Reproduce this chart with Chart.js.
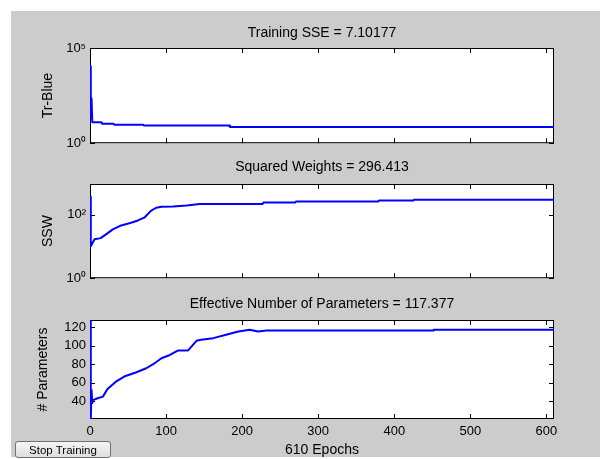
<!DOCTYPE html>
<html>
<head>
<meta charset="utf-8">
<script src="https://cdn.jsdelivr.net/npm/chart.js@4.4.1/dist/chart.umd.min.js"></script>
<style>
  body { margin: 0; background: #fff; width: 600px; height: 459px; overflow: hidden; position: relative; }
  #fig { position: absolute; left: 11px; top: 11px; width: 589px; height: 446px; background: #cccccc; }
  canvas { position: absolute; left: 0; }
  #stop {
    position: absolute; left: 15px; top: 441px; width: 96px; height: 17px;
    font: 11.5px "Liberation Sans", Arial, sans-serif; color: #000;
    border: 1px solid #707070; border-radius: 3px; padding: 0;
    background: linear-gradient(#f6f6f6, #dedede); box-sizing: border-box;
  }
</style>
</head>
<body>
<div id="fig"></div>
<canvas id="sse" width="600" height="155" style="top:0px"></canvas>
<canvas id="ssw" width="600" height="135" style="top:155px"></canvas>
<canvas id="par" width="600" height="164" style="top:295px"></canvas>
<button id="stop">Stop Training</button>

<script>
// epochs shared by all three panels
const xTicks = [0, 100, 200, 300, 400, 500, 600];
const xLabel = "610 Epochs";

// Training SSE (log axis)
const sseEpochs = [0, 1, 2, 3, 15, 16, 31, 32, 70, 71, 183, 184, 610];
const sseValues = [11000, 22, 230, 12.5, 12.5, 10.5, 10.5, 9.3, 9.3, 8.5, 8.5, 7.1, 7.1];
const sseTicks = [1, 100000];
const sseTickLabels = ["10⁰", "10⁵"];

// Squared weights (log axis)
const sswEpochs = [0, 1, 6, 14, 21, 30, 41, 54, 63, 72, 80, 87, 94, 109, 127, 133, 144, 227, 228, 270, 271, 379, 380, 425, 426, 610];
const sswValues = [377, 10.2, 17, 18.3, 24, 34.5, 46, 56, 66, 83, 132, 166, 179, 183, 196, 204, 219, 219, 245, 245, 262, 262, 280, 280, 296, 296];
const sswTicks = [1, 100];
const sswTickLabels = ["10⁰", "10²"];

// Effective number of parameters
const parEpochs = [0, 1, 2, 3, 4, 10, 17, 23, 34, 45, 61, 74, 83, 94, 105, 116, 129, 140, 146, 162, 179, 195, 210, 221, 232, 451, 452, 610];
const parValues = [128, 20.5, 52, 38, 41, 43, 44.8, 53, 61, 66.6, 71.3, 75.6, 80, 86.5, 90, 95, 95, 105.4, 106.5, 108.3, 112, 115.6, 117.4, 115.6, 116.7, 116.7, 117.4, 117.4];
const parTicks = [40, 60, 80, 100, 120];

const FONT = '"Liberation Sans", Arial, sans-serif';

// white plot box, black frame and inward ticks like the matlab axes
const axesBox = {
  id: 'axesBox',
  beforeDraw(chart) {
    const { ctx, chartArea: a } = chart;
    ctx.save();
    ctx.fillStyle = '#fff';
    ctx.fillRect(a.left, a.top, a.right - a.left, a.bottom - a.top);
    ctx.restore();
  },
  beforeDatasetsDraw(chart) {
    const { ctx, chartArea: a, scales } = chart;
    ctx.save();
    ctx.strokeStyle = '#000';
    ctx.lineWidth = 1;
    ctx.strokeRect(a.left + 0.5, a.top + 0.5, a.right - a.left - 1, a.bottom - a.top - 1);
    ctx.beginPath();
    scales.x.ticks.forEach(t => {
      const px = Math.round(scales.x.getPixelForValue(t.value)) + 0.5;
      ctx.moveTo(px, a.bottom); ctx.lineTo(px, a.bottom - 5);
      ctx.moveTo(px, a.top); ctx.lineTo(px, a.top + 5);
    });
    scales.y.ticks.forEach(t => {
      const py = Math.round(scales.y.getPixelForValue(t.value)) + 0.5;
      ctx.moveTo(a.left, py); ctx.lineTo(a.left + 5, py);
      ctx.moveTo(a.right, py); ctx.lineTo(a.right - 5, py);
    });
    ctx.stroke();
    ctx.restore();
  }
};

const makePanel = (id, p) => {
  const ctx = document.getElementById(id).getContext('2d');
  return new Chart(ctx, {
    type: 'line',
    data: {
      datasets: [{
        data: p.epochs.map((e, i) => ({ x: e, y: p.values[i] })),
        borderColor: '#0000ff',
        borderWidth: 2,
        borderJoinStyle: 'round',
        pointRadius: 0,
        tension: 0,
        fill: false
      }]
    },
    options: {
      responsive: false,
      animation: false,
      events: [],
      layout: { padding: { left: 0, right: 46, top: 0, bottom: 0 } },
      plugins: {
        legend: { display: false },
        tooltip: { enabled: false },
        title: {
          display: true,
          text: p.title,
          fullSize: false,
          color: '#000',
          font: { family: FONT, size: 14, weight: 'normal', lineHeight: 1 },
          padding: p.titlePad
        }
      },
      scales: {
        x: {
          type: 'linear',
          min: 0,
          max: 610,
          grid: { display: false, drawTicks: false },
          border: { display: false },
          afterBuildTicks: s => { s.ticks = xTicks.map(v => ({ value: v })); },
          afterFit: s => { s.height = p.xHeight; },
          ticks: {
            display: p.showX,
            padding: 5,
            color: '#000',
            font: { family: FONT, size: 13 }
          },
          title: {
            display: p.showX,
            text: xLabel,
            color: '#000',
            font: { family: FONT, size: 14, lineHeight: 1.2 },
            padding: { top: 0, bottom: 0 }
          }
        },
        y: {
          type: p.yType,
          min: p.yMin,
          max: p.yMax,
          grid: { display: false, drawTicks: false },
          border: { display: false },
          afterBuildTicks: s => { s.ticks = p.yTicks.map(v => ({ value: v })); },
          afterFit: s => { s.width = 90; },
          ticks: {
            padding: 4,
            color: '#000',
            font: { family: FONT, size: 13 },
            callback: (v, i) => p.yLabels[i]
          },
          title: {
            display: true,
            text: p.yTitle,
            color: '#000',
            font: { family: FONT, size: 14, lineHeight: 1.2 },
            padding: { top: p.yTitlePad, bottom: 0 }
          }
        }
      }
    },
    plugins: [axesBox]
  });
};

makePanel('sse', {
  epochs: sseEpochs, values: sseValues,
  title: 'Training SSE = 7.10177', titlePad: { top: 26, bottom: 8 },
  yType: 'logarithmic', yMin: 1, yMax: 100000,
  yTicks: sseTicks, yLabels: sseTickLabels, yTitle: 'Tr-Blue', yTitlePad: 40,
  showX: false, xHeight: 8
});

makePanel('ssw', {
  epochs: sswEpochs, values: sswValues,
  title: 'Squared Weights = 296.413', titlePad: { top: 5, bottom: 10 },
  yType: 'logarithmic', yMin: 1, yMax: 930,
  yTicks: sswTicks, yLabels: sswTickLabels, yTitle: 'SSW', yTitlePad: 40,
  showX: false, xHeight: 7
});

makePanel('par', {
  epochs: parEpochs, values: parValues,
  title: 'Effective Number of Parameters = 117.377', titlePad: { top: 2, bottom: 9 },
  yType: 'linear', yMin: 20.5, yMax: 128,
  yTicks: parTicks, yLabels: parTicks.map(String), yTitle: '# Parameters', yTitlePad: 35,
  showX: true, xHeight: 40
});
</script>
</body>
</html>
